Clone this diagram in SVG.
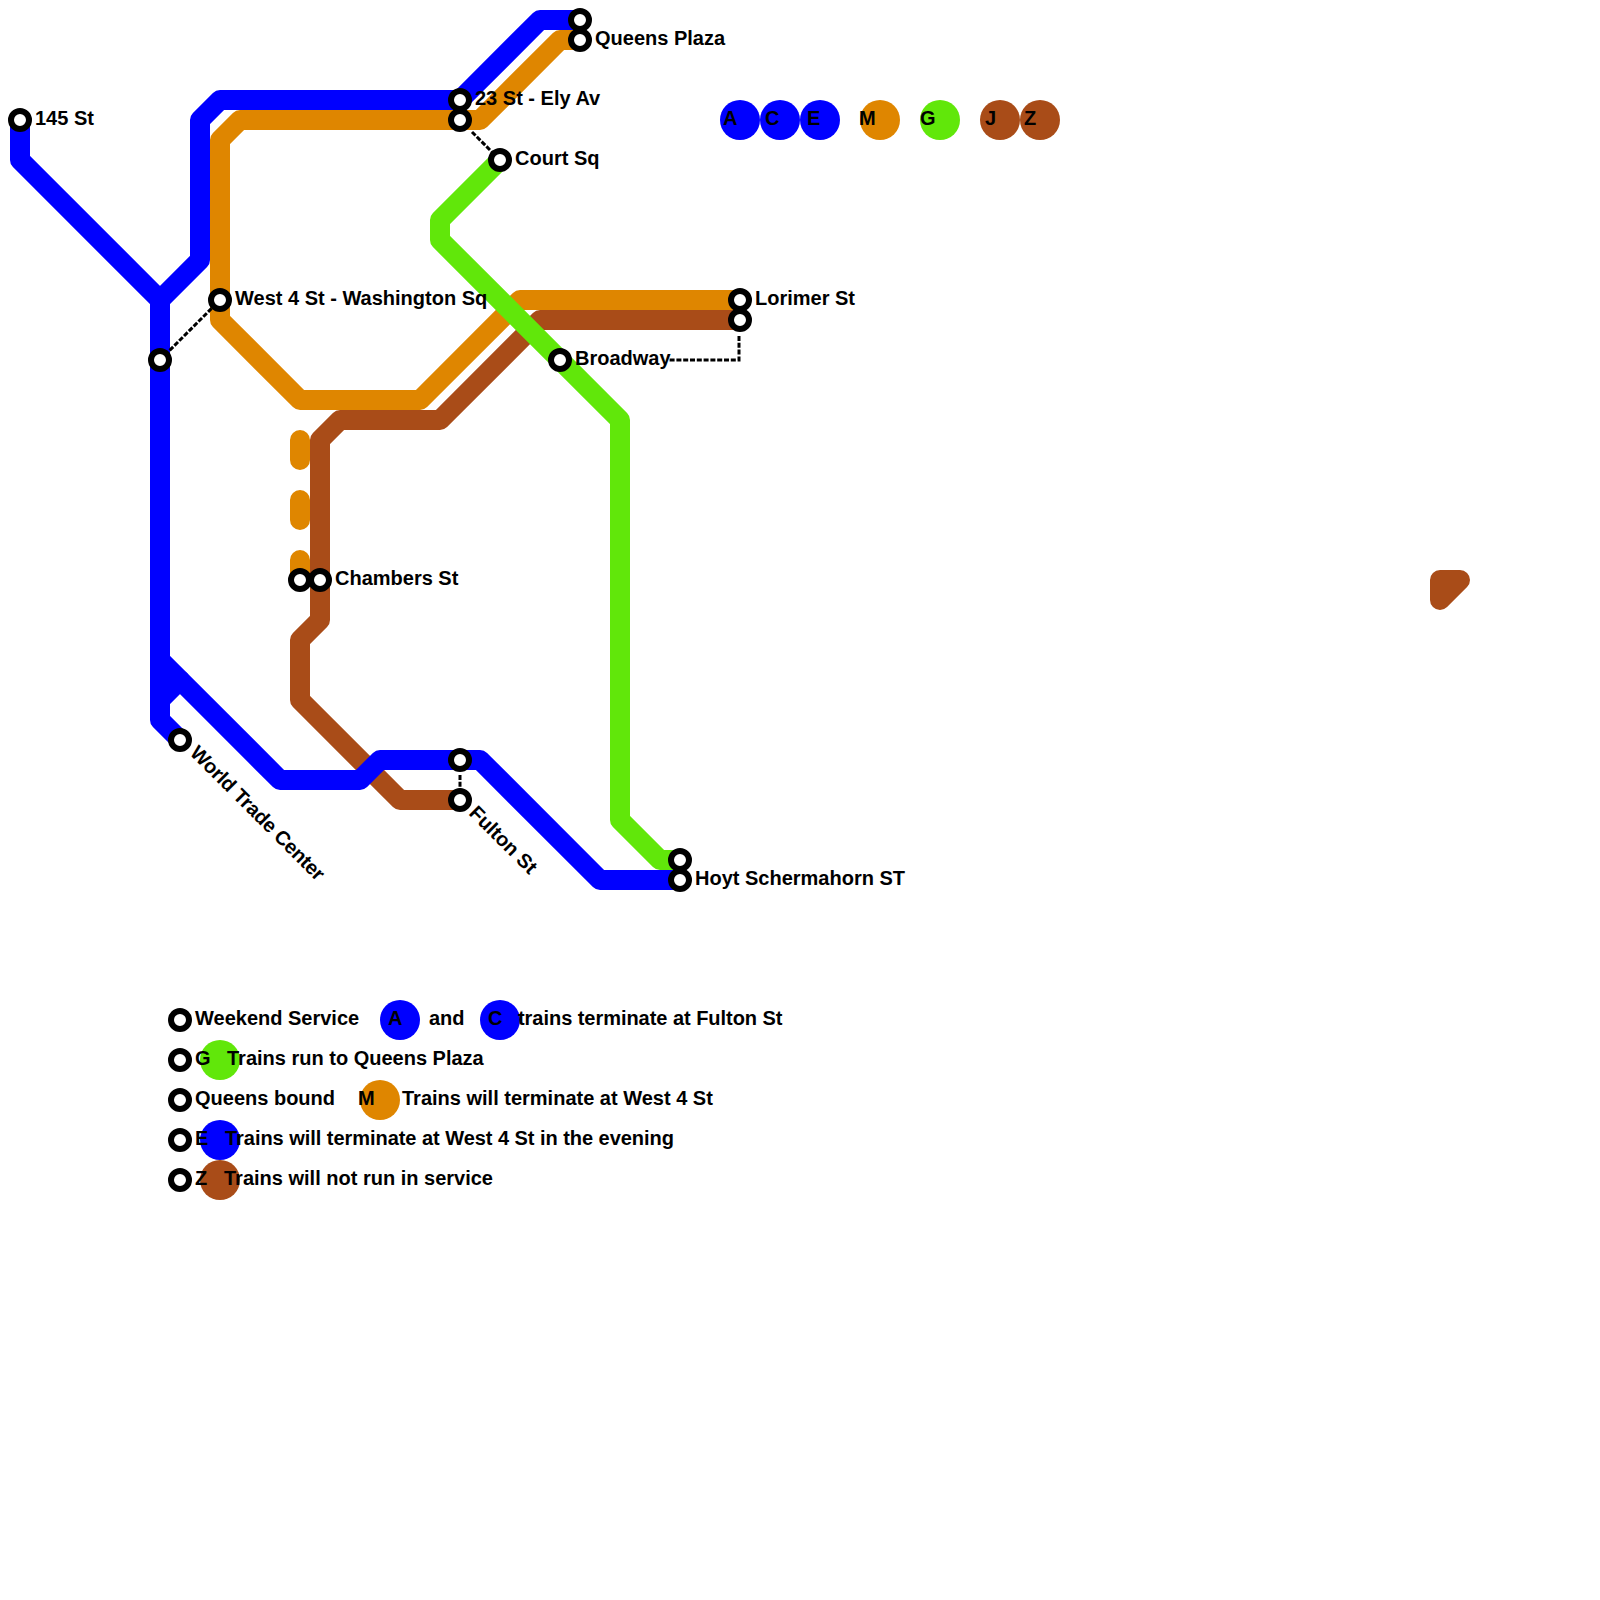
<svg xmlns="http://www.w3.org/2000/svg" width="1600" height="1600" viewBox="0 0 1600 1600">
<style>
text{font-family:"Liberation Sans",Arial,sans-serif;font-weight:bold;font-size:20px;fill:#000}
.l{fill:none;stroke-width:20;stroke-linejoin:round;stroke-linecap:round}
.b{stroke:#0000ff}.o{stroke:#df8600}.g{stroke:#61e70a}.r{stroke:#a94c18}
.d{fill:none;stroke:#000;stroke-width:3;stroke-dasharray:5 1.8}
.s{fill:#fff;stroke:#000;stroke-width:6}
.cb{fill:#0000ff}.co{fill:#df8600}.cg{fill:#61e70a}.cr{fill:#a94c18}
.t{letter-spacing:-0.04px}
</style>
<rect width="1600" height="1600" fill="#fff"/>
<g id="connectors">
<path class="l o" d="M580 40H560L480 120H240L220 140V320L300 400H420L520 300H740"/>
<path class="l o" stroke-dasharray="20 40" d="M300 440V580"/>
<path class="l r" d="M740 320H540L440 420H340L320 440V620L300 640V700L400 800H460"/>
<path class="l g" d="M500 160L440 220V240L620 420V820L660 860H680"/>
<path class="l b" d="M20 120V160L160 300V720L180 740"/>
<path class="l b" d="M160 300L200 260V120L220 100H460L540 20H580"/>
<path class="l b" d="M160 660L280 780H360L380 760H480L600 880H680"/>
<path class="l b" d="M160 700L180 680"/>
<path class="l r cr" d="M1440 580H1460L1440 600Z"/>
<path class="d" d="M160 360L220 300"/>
<path class="d" d="M472 132L500 160"/>
<path class="d" d="M460 775V800"/>
<path class="d" d="M739 336V360H668"/>
</g>
<g id="st-145"><circle class="s" cx="20" cy="120" r="9"/><text x="35" y="125">145 St</text></g>
<g id="st-west4"><circle class="s" cx="220" cy="300" r="9"/><text x="235" y="305">West 4 St - Washington Sq</text></g>
<g id="st-west4-lower"><circle class="s" cx="160" cy="360" r="9"/></g>
<g id="st-23-a"><circle class="s" cx="460" cy="100" r="9"/><text x="475" y="105">23 St - Ely Av</text></g>
<g id="st-23-b"><circle class="s" cx="460" cy="120" r="9"/></g>
<g id="st-court"><circle class="s" cx="500" cy="160" r="9"/><text x="515" y="165">Court Sq</text></g>
<g id="st-qp-a"><circle class="s" cx="580" cy="20" r="9"/></g>
<g id="st-qp-b"><circle class="s" cx="580" cy="40" r="9"/><text x="595" y="45">Queens Plaza</text></g>
<g id="st-lorimer-a"><circle class="s" cx="740" cy="300" r="9"/><text x="755" y="305">Lorimer St</text></g>
<g id="st-lorimer-b"><circle class="s" cx="740" cy="320" r="9"/></g>
<g id="st-broadway"><circle class="s" cx="560" cy="360" r="9"/><text x="575" y="365">Broadway</text></g>
<g id="st-chambers-a"><circle class="s" cx="300" cy="580" r="9"/></g>
<g id="st-chambers-b"><circle class="s" cx="320" cy="580" r="9"/><text x="335" y="585">Chambers St</text></g>
<g id="st-wtc"><circle class="s" cx="180" cy="740" r="9"/><text transform="translate(189 754) rotate(45)" letter-spacing="-0.2">World Trade Center</text></g>
<g id="st-fulton-a"><circle class="s" cx="460" cy="760" r="9"/></g>
<g id="st-fulton-b"><circle class="s" cx="460" cy="800" r="9"/><text transform="translate(468 814) rotate(45)">Fulton St</text></g>
<g id="st-hoyt-a"><circle class="s" cx="680" cy="860" r="9"/></g>
<g id="st-hoyt-b"><circle class="s" cx="680" cy="880" r="9"/><text x="695" y="885">Hoyt Schermahorn ST</text></g>
<g id="bullet-a"><circle class="cb" cx="740" cy="120" r="20"/><text x="723" y="125">A</text></g>
<g id="bullet-c"><circle class="cb" cx="780" cy="120" r="20"/><text x="765" y="125">C</text></g>
<g id="bullet-e"><circle class="cb" cx="820" cy="120" r="20"/><text x="807" y="125">E</text></g>
<g id="bullet-m"><circle class="co" cx="880" cy="120" r="20"/><text x="859" y="125">M</text></g>
<g id="bullet-g"><circle class="cg" cx="940" cy="120" r="20"/><text x="920" y="125">G</text></g>
<g id="bullet-j"><circle class="cr" cx="1000" cy="120" r="20"/><text x="985" y="125">J</text></g>
<g id="bullet-z"><circle class="cr" cx="1040" cy="120" r="20"/><text x="1024" y="125">Z</text></g>
<g id="legend-1"><circle class="s" cx="180" cy="1020" r="9"/><text x="195" y="1025">Weekend Service</text>
<circle class="cb" cx="400" cy="1020" r="20"/><text x="388" y="1025">A</text><text x="429" y="1025">and</text>
<circle class="cb" cx="500" cy="1020" r="20"/><text x="488" y="1025">C</text><text class="t" x="518" y="1025">trains terminate at Fulton St</text></g>
<g id="legend-2"><circle class="s" cx="180" cy="1060" r="9"/><circle class="cg" cx="220" cy="1060" r="20"/><text x="195" y="1065">G</text><text x="227" y="1065">Trains run to Queens Plaza</text></g>
<g id="legend-3"><circle class="s" cx="180" cy="1100" r="9"/><text x="195" y="1105">Queens bound</text><circle class="co" cx="380" cy="1100" r="20"/><text x="358" y="1105">M</text><text x="402" y="1105">Trains will terminate at West 4 St</text></g>
<g id="legend-4"><circle class="s" cx="180" cy="1140" r="9"/><circle class="cb" cx="220" cy="1140" r="20"/><text x="195" y="1145">E</text><text class="t" x="225" y="1145">Trains will terminate at West 4 St in the evening</text></g>
<g id="legend-5"><circle class="s" cx="180" cy="1180" r="9"/><circle class="cr" cx="220" cy="1180" r="20"/><text x="195" y="1185">Z</text><text x="224" y="1185">Trains will not run in service</text></g>
</svg>
